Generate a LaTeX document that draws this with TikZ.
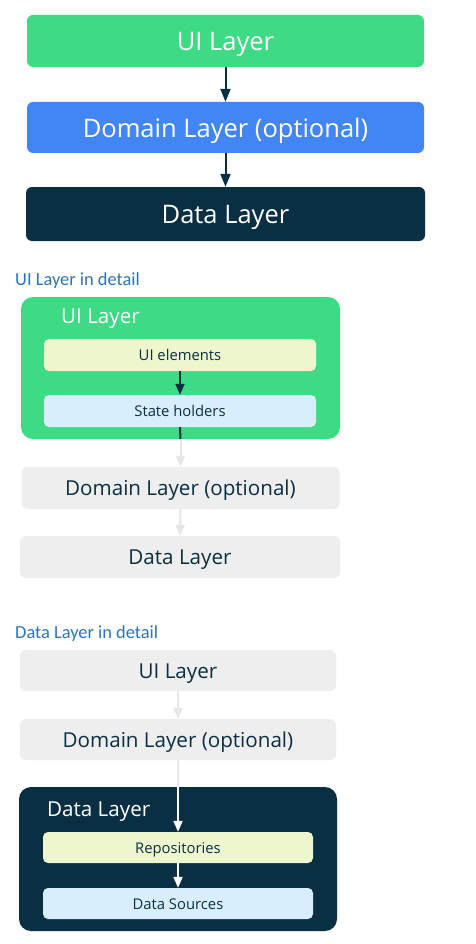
\documentclass[tikz,border=0pt]{standalone}
\usepackage{fontspec}
\setmainfont{Open Sans}
\newfontfamily\calib{Carlito}
\usetikzlibrary{arrows.meta}
\definecolor{andgreen}{HTML}{3DDC84}
\definecolor{andblue}{HTML}{4285F4}
\definecolor{andnavy}{HTML}{0A2F42}
\definecolor{boxgray}{HTML}{EEEEEE}
\definecolor{arrowgray}{HTML}{E6E6E6}
\definecolor{paleyellow}{HTML}{EEF6CD}
\definecolor{paleblue}{HTML}{D8EEFD}
\definecolor{headblue}{HTML}{2E74B5}
\tikzset{
  bigfont/.style={font=\fontsize{25.5}{30}\selectfont, text height=19.5pt, text depth=0pt},
  midfont/.style={font=\fontsize{20.6}{25}\selectfont, text height=15.5pt, text depth=0pt},
  smallfont/.style={font=\fontsize{14.8}{18}\selectfont, text height=11pt, text depth=0pt},
  topbox/.style={rounded corners=6pt, inner sep=0pt, text=white, bigfont},
  graybox/.style={rounded corners=6pt, inner sep=0pt, fill=boxgray, text=andnavy, midfont},
  bigbox/.style={rounded corners=12pt, inner sep=0pt},
  innerbox/.style={rounded corners=5pt, inner sep=0pt, text=andnavy, smallfont},
  heading/.style={anchor=west, inner sep=0pt, text=headblue, font=\calib\fontsize{18.4}{22}\selectfont, text height=11.8pt, text depth=0pt},
  darkarrow/.style={draw=andnavy, line width=2pt, -{Triangle[width=10pt,length=13pt]}},
  smallarrow/.style={line width=2pt, -{Triangle[width=9pt,length=11pt]}},
  lightarrow/.style={draw=arrowgray, line width=2pt, -{Triangle[width=9pt,length=11pt]}},
}
\begin{document}
\begin{tikzpicture}[x=1pt,y=-1pt]
\useasboundingbox[fill=white] (0,0) rectangle (476,944);

% ---- top overview ----
\node[topbox, fill=andgreen, minimum width=397pt, minimum height=52pt] (ui1) at (225.5,41) {UI Layer};
\node[topbox, fill=andblue, minimum width=397pt, minimum height=51pt] (dom1) at (225.5,127.5) {Domain Layer (optional)};
\node[topbox, fill=andnavy, minimum width=399pt, minimum height=54pt] (data1) at (225.5,214) {Data Layer};
\draw[darkarrow] (ui1.south) -- (dom1.north);
\draw[darkarrow] (dom1.south) -- (data1.north);

% ---- UI layer in detail ----
\node[heading] (h1) at (15,279.5) {UI Layer in detail};
\node[bigbox, fill=andgreen, minimum width=319pt, minimum height=142pt] (uibig) at (180.5,368) {};
\node[anchor=west, inner sep=0pt, text=white, midfont] (uilabel) at (61,315.5) {UI Layer};
\node[innerbox, fill=paleyellow, minimum width=272pt, minimum height=32pt] (uiel) at (180,355) {UI elements};
\node[innerbox, fill=paleblue, minimum width=272pt, minimum height=32pt] (state) at (180,411) {State holders};
\draw[smallarrow, draw=andnavy] (uiel.south) -- (state.north);
\node[graybox, minimum width=318pt, minimum height=42pt] (dom2) at (180.5,488) {Domain Layer (optional)};
\node[graybox, minimum width=320pt, minimum height=42pt] (data2) at (180,557) {Data Layer};
\draw[andnavy, line width=2pt] (state.south) -- (uibig.south);
\draw[lightarrow] (uibig.south) -- (dom2.north);
\draw[lightarrow] (dom2.south) -- (data2.north);

% ---- Data layer in detail ----
\node[heading] (h2) at (15,632.5) {Data Layer in detail};
\node[graybox, minimum width=316pt, minimum height=41pt] (ui3) at (178,670.5) {UI Layer};
\node[graybox, minimum width=316pt, minimum height=41pt] (dom3) at (178,739.5) {Domain Layer (optional)};
\node[bigbox, fill=andnavy, minimum width=318pt, minimum height=144pt] (databig) at (178,859) {};
\node[anchor=west, inner sep=0pt, text=white, midfont] (datalabel) at (47,809) {Data Layer};
\node[innerbox, fill=paleyellow, minimum width=270pt, minimum height=31pt] (repo) at (178,847.5) {Repositories};
\node[innerbox, fill=paleblue, minimum width=270pt, minimum height=31pt] (src) at (178,903.5) {Data Sources};
\draw[lightarrow] (ui3.south) -- (dom3.north);
\draw[arrowgray, line width=2pt] (dom3.south) -- (databig.north);
\draw[smallarrow, draw=white] (databig.north) -- (repo.north);
\draw[smallarrow, draw=white] (repo.south) -- (src.north);
\end{tikzpicture}
\end{document}
